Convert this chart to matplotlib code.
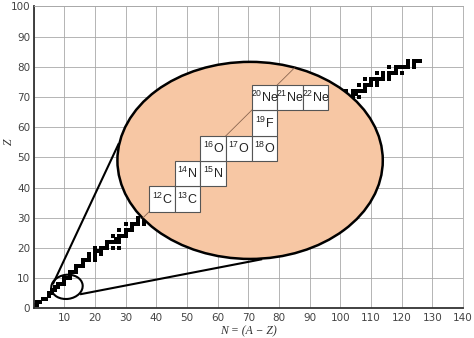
import matplotlib
matplotlib.use("Agg")
import matplotlib.pyplot as plt
import numpy as np
from matplotlib.patches import Ellipse, Rectangle

plt.rcParams["mathtext.fontset"] = "custom"
plt.rcParams["mathtext.rm"] = "Liberation Sans"
plt.rcParams["mathtext.it"] = "Liberation Sans:italic"

# stable nuclides: proton number and the neutron numbers of its stable isotopes
stable_z = [1, 2, 3, 4, 5, 6, 7, 8, 9, 10, 11, 12, 13, 14, 15, 16, 17, 18, 19, 20,
            21, 22, 23, 24, 25, 26, 27, 28, 29, 30, 31, 32, 33, 34, 35, 36, 37, 38, 39, 40,
            41, 42, 44, 45, 46, 47, 48, 49, 50, 51, 52, 53, 54, 55, 56, 57, 58, 59, 60,
            62, 63, 64, 65, 66, 67, 68, 69, 70, 71, 72, 73, 74, 75, 76, 77, 78, 79, 80,
            81, 82]
stable_n = [[0, 1], [1, 2], [3, 4], [5], [5, 6], [6, 7], [7, 8], [8, 9, 10], [10],
            [10, 11, 12], [12], [12, 13, 14], [14], [14, 15, 16], [16], [16, 17, 18, 20],
            [18, 20], [18, 20, 22], [20, 21, 22], [20, 22, 23, 24, 26, 28],
            [24], [24, 25, 26, 27, 28], [27, 28], [26, 28, 29, 30], [30], [28, 30, 31, 32],
            [32], [30, 32, 33, 34, 36], [34, 36], [34, 36, 37, 38, 40], [38, 40],
            [38, 40, 41, 42, 44], [42], [40, 42, 43, 44, 46, 48], [44, 46],
            [42, 44, 46, 47, 48, 50], [48, 50], [46, 48, 49, 50], [50],
            [50, 51, 52, 54, 56], [52], [50, 52, 53, 54, 55, 56, 58],
            [52, 54, 55, 56, 57, 58, 60], [58], [56, 58, 59, 60, 62, 64], [60, 62],
            [58, 60, 62, 63, 64, 65, 66, 68], [64, 66],
            [62, 64, 65, 66, 67, 68, 69, 70, 72, 74], [70, 72],
            [68, 70, 71, 72, 73, 74, 76, 78], [74], [70, 72, 74, 75, 76, 77, 78, 80, 82],
            [78], [74, 76, 78, 79, 80, 81, 82], [81, 82], [78, 80, 82, 84], [82],
            [82, 83, 84, 85, 86, 88, 90], [82, 85, 86, 87, 88, 90, 92], [88, 90],
            [88, 90, 91, 92, 93, 94, 96], [94], [90, 92, 94, 95, 96, 97, 98], [98],
            [94, 96, 98, 99, 100, 102], [100], [98, 100, 101, 102, 103, 104, 106],
            [104, 105], [102, 104, 105, 106, 107, 108], [108], [106, 108, 109, 110, 112],
            [110, 112], [108, 110, 111, 112, 113, 114, 116], [114, 116],
            [112, 114, 116, 117, 118, 120], [118], [116, 118, 119, 120, 121, 122, 124],
            [122, 124], [122, 124, 125, 126]]

# light nuclei shown enlarged in the inset
inset_mass = [12, 13, 14, 15, 16, 17, 18, 19, 20, 21, 22]
inset_z = [6, 6, 7, 7, 8, 8, 8, 9, 10, 10, 10]
inset_symbol = ["C", "C", "N", "N", "O", "O", "O", "F", "Ne", "Ne", "Ne"]

x_ticks = list(range(0, 141, 10))
y_ticks = list(range(0, 101, 10))

nn = np.concatenate([np.array(n) for n in stable_n])
zz = np.concatenate([np.full(len(n), z) for z, n in zip(stable_z, stable_n)])

fig = plt.figure(figsize=(4.74, 3.38), dpi=100)
ax = fig.add_axes([0.0707, 0.0879, 0.9061, 0.8929])
ax.set_xlim(0, 140)
ax.set_ylim(0, 100)

ax.set_xticks(x_ticks)
ax.set_xticklabels([""] + [str(t) for t in x_ticks[1:]])
ax.set_yticks(y_ticks)
ax.set_yticklabels([str(t) for t in y_ticks])
ax.tick_params(length=0, labelsize=7.5, labelcolor="#444444")
ax.tick_params(axis="x", pad=3.4)
ax.tick_params(axis="y", pad=2.4)
ax.grid(color="#a8a8a8", lw=0.6)
ax.set_axisbelow(True)
for side in ["left", "bottom"]:
    ax.spines[side].set_color("#333333")
    ax.spines[side].set_linewidth(1.3)
for side in ["top", "right"]:
    ax.spines[side].set_color("#a8a8a8")
    ax.spines[side].set_linewidth(0.6)

ax.scatter(nn, zz, marker="s", s=6, color="black", linewidths=0, zorder=2)

ax.set_xlabel("N = (A − Z)", family="Liberation Serif", style="italic",
              fontsize=8.5, color="#333333", va="center")
ax.xaxis.set_label_coords(0.4995, -0.075)
ax.set_ylabel("Z", family="Liberation Serif", style="italic",
              fontsize=8.5, color="#333333", va="center", ha="center")
ax.yaxis.set_label_coords(-0.057, 0.551)

# magnifier: small ring, connecting lines, big ellipse
ax.add_patch(Ellipse((10.9, 7.1), 10.3, 8.0, angle=8, fill=False,
                     ec="black", lw=1.5, zorder=4))
ax.plot([6.45, 27.7], [8.3, 54.4], color="black", lw=1.5, zorder=4)
ax.plot([15.5, 74.2], [4.7, 16.2], color="black", lw=1.5, zorder=4)

big = Ellipse((70.6, 49.0), 86.5, 65.3, fc="#F7C7A4", ec="black", lw=1.8, zorder=5)
ax.add_patch(big)

x0, y0 = 37.7, 32.0
w, h = 8.35, 8.4

# N = Z diagonal through the inset, clipped to the ellipse
diag, = ax.plot([x0 - 3 * w, x0 + 9 * w], [y0 - 3 * h, y0 + 9 * h],
                color="#8a6650", lw=0.6, zorder=6)
diag.set_clip_path(big)

for a, z, sym in zip(inset_mass, inset_z, inset_symbol):
    col = a - z - 6
    row = z - 6
    bx = x0 + col * w
    by = y0 + row * h
    ax.add_patch(Rectangle((bx, by), w, h, fc="white", ec="#555555", lw=0.8, zorder=7))
    ax.text(bx + w / 2, by + h / 2, r"$^{%d}$%s" % (a, sym), ha="center", va="center",
            family="Liberation Sans", fontsize=9, color="#222222", zorder=8)

fig.savefig("out.png", dpi=100)
